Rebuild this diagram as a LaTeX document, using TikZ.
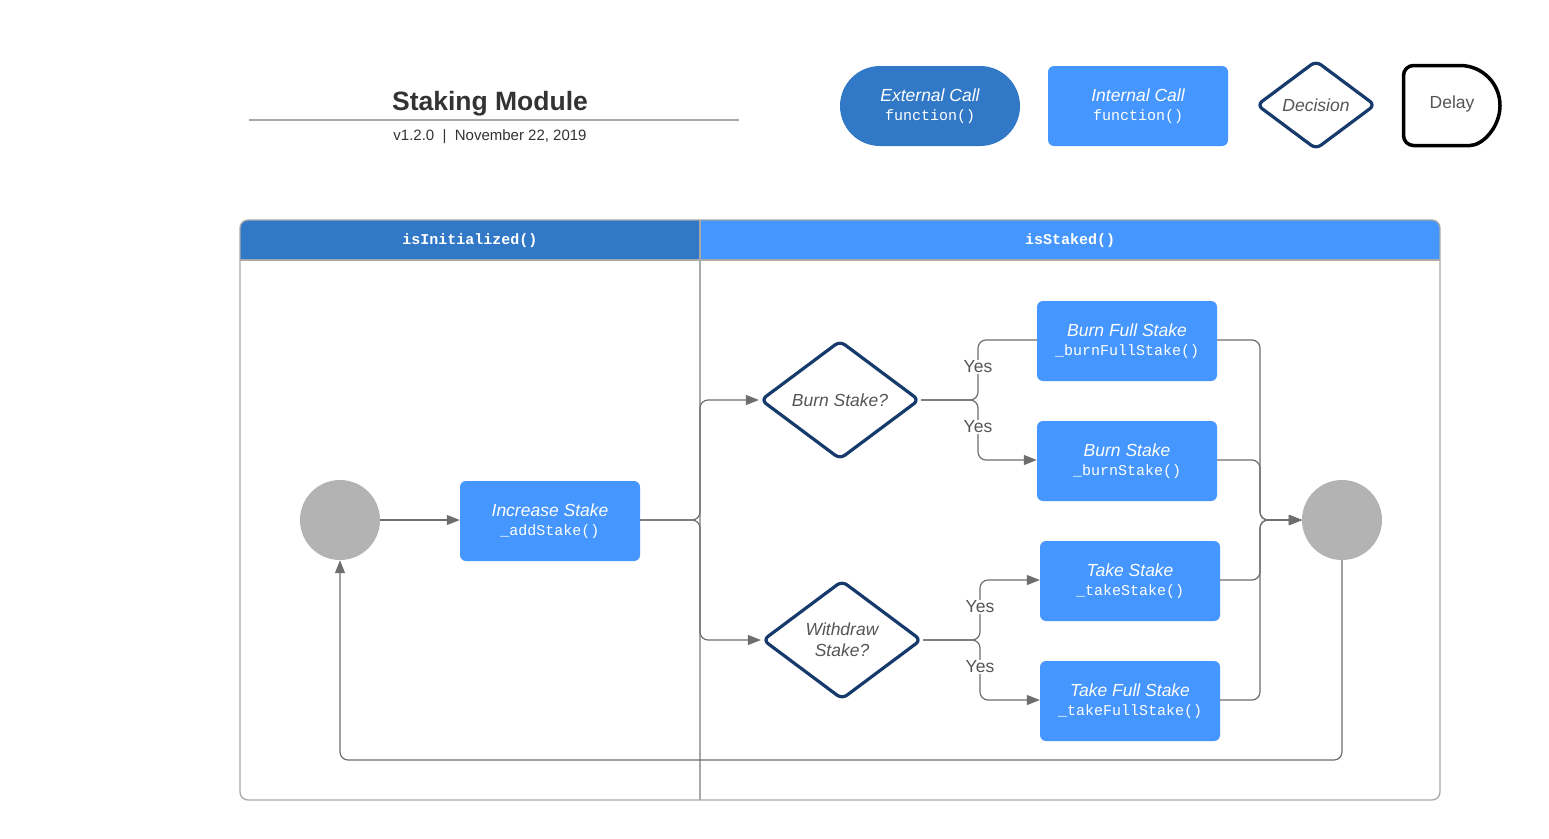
\documentclass[tikz,border=0pt]{standalone}
\usepackage{fontspec}
\setmainfont{Liberation Sans}
\setmonofont{Liberation Mono}
\usetikzlibrary{arrows.meta,shapes.geometric}
\definecolor{dkblue}{HTML}{3178C6}
\definecolor{ltblue}{HTML}{4596FE}
\definecolor{navy}{HTML}{153A6B}
\definecolor{cgray}{HTML}{6E6E6E}
\definecolor{lgray}{HTML}{A8A8A8}
\definecolor{circ}{HTML}{B3B3B3}
\definecolor{txt}{HTML}{333333}
\definecolor{dtxt}{HTML}{555555}
\newcommand{\bt}{\fontsize{17.5}{21}\selectfont\itshape}
\newcommand{\mt}{\fontsize{15}{19.5}\selectfont\ttfamily}
\tikzset{
 callbox/.style={fill=ltblue, rounded corners=6pt, minimum width=180pt, minimum height=80pt, text=white, align=center, inner sep=0pt, font=\fontsize{16}{19.5}\selectfont},
 decisionbox/.style={shape=diamond, draw=navy, line width=3.2pt, rounded corners=6pt, minimum width=159pt, minimum height=119pt, inner sep=0pt, align=center, text=dtxt, aspect=1.34, font=\bt},
 conn/.style={draw=cgray, line width=1.2pt, rounded corners=8pt},
 arr/.style={conn, -{Triangle[length=13pt,width=10pt]}},
 yes/.style={fill=white, text=dtxt, font=\fontsize{17.5}{20}\selectfont, inner sep=1pt},
 term/.style={circle, fill=circ, minimum size=80pt, inner sep=0pt},
 lane/.style={draw=lgray, line width=1.3pt},
 hdr/.style={font=\fontsize{15}{18}\selectfont\ttfamily\bfseries, text=white},
}
\begin{document}
\begin{tikzpicture}[x=1pt,y=-1pt]
\useasboundingbox (0,0) rectangle (1549,838);
\fill[white] (0,0) rectangle (1549,838);
% title
\node[font=\fontsize{26.5}{30}\selectfont\bfseries, text=txt] (title) at (490,104) {Staking Module};
\draw[lgray, line width=2pt] (249,120) -- (739,120);
\node[font=\fontsize{15}{18}\selectfont, text=txt] (sub) at (490,137) {v1.2.0\ \ |\ \ November 22, 2019};
% legend
\node[callbox, fill=dkblue, rounded corners=40pt] (ext) at (930,106) {{\bt External Call}\\{\mt function()}};
\node[callbox] (int) at (1138,106) {{\bt Internal Call}\\{\mt function()}};
\node[decisionbox, minimum width=119pt, minimum height=89pt] (dec) at (1316,105) {Decision};
\draw[line width=3.5pt, rounded corners=10pt] (1460,65.5) -- (1403.5,65.5) -- (1403.5,145.5) -- (1460,145.5) [sharp corners] .. controls (1482.1,145.5) and (1500,127.6) .. (1500,105.5) .. controls (1500,83.4) and (1482.1,65.5) .. (1460,65.5) -- cycle;
\node[text=dtxt, font=\fontsize{17.5}{20}\selectfont] (delay) at (1452,104) {Delay};
% swimlanes
\begin{scope}
\clip[rounded corners=8pt] (240,220) rectangle (1440,800);
\fill[dkblue] (240,220) rectangle (700,260);
\fill[ltblue] (700,220) rectangle (1440,260);
\end{scope}
\draw[lane] (240,260) -- (1440,260);
\draw[lane] (700,220) -- (700,800);
\draw[lane, rounded corners=8pt] (240,220) rectangle (1440,800);
\node[hdr] (h1) at (470,241) {isInitialized()};
\node[hdr] (h2) at (1070,241) {isStaked()};
% nodes
\node[term] (s) at (340,520) {};
\node[callbox] (inc) at (550,521) {{\bt Increase Stake}\\{\mt \_addStake()}};
\node[decisionbox] (bq) at (840,400) {Burn Stake?};
\node[decisionbox] (wq) at (842,640) {Withdraw\\Stake?};
\node[callbox] (bfs) at (1127,341) {{\bt Burn Full Stake}\\{\mt \_burnFullStake()}};
\node[callbox] (bs) at (1127,461) {{\bt Burn Stake}\\{\mt \_burnStake()}};
\node[callbox] (ts) at (1130,581) {{\bt Take Stake}\\{\mt \_takeStake()}};
\node[callbox] (tfs) at (1130,701) {{\bt Take Full Stake}\\{\mt \_takeFullStake()}};
\node[term] (e) at (1342,520) {};
\coordinate (sp) at (700,520);
\coordinate (jb) at (978,400);
\coordinate (jw) at (980,640);
\coordinate (mg) at (1260,520);
\coordinate (lp) at (1342,760);
% connectors
\draw[arr] (s) -- (inc.west |- s);
\draw[arr] (inc.east |- s) -- (sp) |- (bq.west);
\draw[arr] (inc.east |- s) -- (sp) |- (wq.west);
\draw[conn] (bq.east) -- (jb) |- (bfs.west |- 0,340);
\draw[arr] (bq.east) -- (jb) |- (bs.west |- 0,460);
\draw[arr] (wq.east) -- (jw) |- (ts.west |- 0,580);
\draw[arr] (wq.east) -- (jw) |- (tfs.west |- 0,700);
\draw[arr] (bfs.east |- 0,340) -| (mg) -- (e.west);
\draw[arr] (bs.east |- 0,460) -| (mg) -- (e.west);
\draw[arr] (ts.east |- 0,580) -| (mg) -- (e.west);
\draw[arr] (tfs.east |- 0,700) -| (mg) -- (e.west);
\draw[arr] (e.south) -- (lp) -| (s.south);
\node[yes] (y1) at (978,367) {Yes};
\node[yes] (y2) at (978,427) {Yes};
\node[yes] (y3) at (980,607) {Yes};
\node[yes] (y4) at (980,667) {Yes};
\end{tikzpicture}
\end{document}
